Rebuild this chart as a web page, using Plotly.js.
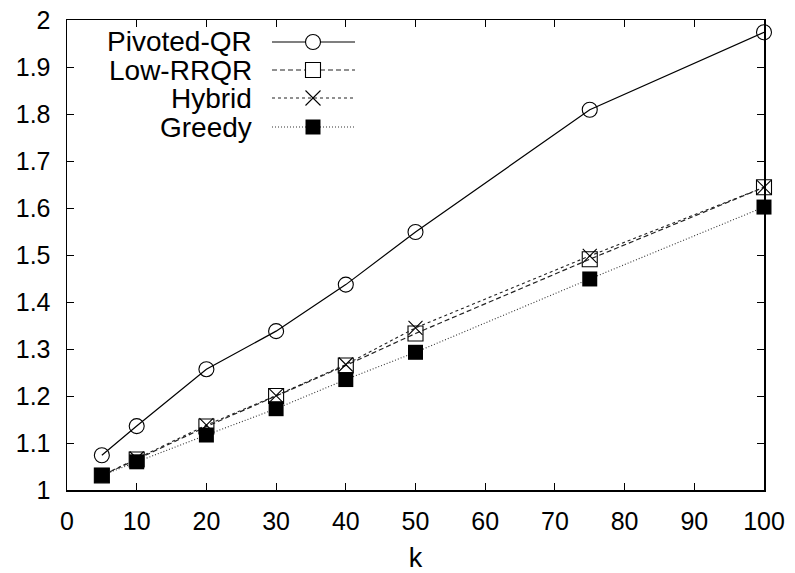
<!DOCTYPE html>
<html>
<head>
<meta charset="utf-8">
<script src="https://cdn.plot.ly/plotly-3.0.1.min.js"></script>
<style>html,body{margin:0;padding:0;background:#fff;}#chart{width:795px;height:573px;}</style>
</head>
<body>
<div id="chart"></div>
<script>
// Data
const kValues = [5, 10, 20, 30, 40, 50, 75, 100];
const pivotedQR = [1.074, 1.136, 1.257, 1.338, 1.437, 1.549, 1.809, 1.974];
const lowRRQR   = [1.031, 1.065, 1.135, 1.200, 1.265, 1.333, 1.491, 1.644];
const hybrid    = [1.031, 1.067, 1.138, 1.201, 1.267, 1.345, 1.498, 1.644];
const greedy    = [1.031, 1.060, 1.117, 1.173, 1.235, 1.293, 1.449, 1.602];
const seriesNames = ['Pivoted-QR', 'Low-RRQR', 'Hybrid', 'Greedy'];
const xTicks = [0, 10, 20, 30, 40, 50, 60, 70, 80, 90, 100];
const yTicks = [1, 1.1, 1.2, 1.3, 1.4, 1.5, 1.6, 1.7, 1.8, 1.9, 2];
const yTickText = ['1', '1.1', '1.2', '1.3', '1.4', '1.5', '1.6', '1.7', '1.8', '1.9', '2'];

const FONT = 'Liberation Sans, Arial, sans-serif';
const styles = [
  {dash: 'solid', color: '#000', lw: 1.2, symbol: 'circle-open', msize: 15, mcolor: '#000', mline: 1.1},
  {dash: '5px,3px', color: '#222', lw: 1.2, symbol: 'square-open', msize: 15, mcolor: '#000', mline: 1.1},
  {dash: '3px,3px', color: '#222', lw: 1.1, symbol: 'x-thin-open', msize: 14, mcolor: '#000', mline: 1.1},
  {dash: '1px,2px', color: '#333', lw: 1.1, symbol: 'square', msize: 15, mcolor: '#000', mline: 0}
];
const allSeries = [pivotedQR, lowRRQR, hybrid, greedy];

const traces = allSeries.map((ys, i) => ({
  x: kValues, y: ys, type: 'scatter', mode: 'lines+markers', name: seriesNames[i],
  showlegend: false,
  line: {color: styles[i].color, width: styles[i].lw, dash: styles[i].dash},
  marker: {symbol: styles[i].symbol, size: styles[i].msize, color: styles[i].mcolor,
           line: {color: '#000', width: styles[i].mline}},
  cliponaxis: false
}));

// Custom legend (text right-aligned, sample to the right) in pixel-based paper coords
const W = 795, H = 573, mL = 67, mR = 31, mT = 20, mB = 83;
const pw = W - mL - mR, ph = H - mT - mB;
const px = x => (x - mL) / pw;
const py = y => 1 - (y - mT) / ph;
const shapes = [];
const annotations = [];
const rowY = [42, 70, 98, 127];
const textRight = 254, lineX0 = 272, lineX1 = 355, mx = 313, half = 7.5;
seriesNames.forEach((nm, i) => {
  annotations.push({xref: 'paper', yref: 'paper', x: px(textRight), y: py(rowY[i]), xanchor: 'right', yanchor: 'middle',
    text: nm, showarrow: false, font: {family: FONT, size: 28, color: '#000'}});
  shapes.push({type: 'line', xref: 'paper', yref: 'paper', x0: px(lineX0), x1: px(lineX1), y0: py(rowY[i]), y1: py(rowY[i]),
    line: {color: styles[i].color, width: styles[i].lw, dash: styles[i].dash}});
  const sx0 = px(mx - half), sx1 = px(mx + half), sy0 = py(rowY[i] + half), sy1 = py(rowY[i] - half);
  if (i === 0) shapes.push({type: 'circle', xref: 'paper', yref: 'paper', x0: sx0, x1: sx1, y0: sy0, y1: sy1, fillcolor: '#fff', line: {color: '#000', width: 1.1}});
  if (i === 1) shapes.push({type: 'rect', xref: 'paper', yref: 'paper', x0: sx0, x1: sx1, y0: sy0, y1: sy1, fillcolor: '#fff', line: {color: '#000', width: 1.1}});
  if (i === 2) {
    shapes.push({type: 'line', xref: 'paper', yref: 'paper', x0: sx0, x1: sx1, y0: sy0, y1: sy1, line: {color: '#000', width: 1.1}});
    shapes.push({type: 'line', xref: 'paper', yref: 'paper', x0: sx0, x1: sx1, y0: sy1, y1: sy0, line: {color: '#000', width: 1.1}});
  }
  if (i === 3) shapes.push({type: 'rect', xref: 'paper', yref: 'paper', x0: sx0, x1: sx1, y0: sy0, y1: sy1, fillcolor: '#000', line: {color: '#000', width: 0}});
});

const layout = {
  width: W, height: H,
  margin: {l: mL, r: mR, t: mT, b: mB, pad: 0},
  paper_bgcolor: '#fff', plot_bgcolor: '#fff',
  font: {family: FONT, size: 25, color: '#000'},
  showlegend: false,
  xaxis: {
    range: [0, 100], tickvals: xTicks, ticktext: xTicks.map(String),
    ticks: 'inside', ticklen: 7, tickwidth: 1, tickcolor: '#000',
    showline: true, linecolor: '#000', linewidth: 1.5, mirror: 'ticks',
    showgrid: false, zeroline: false,
    tickfont: {family: FONT, size: 25, color: '#000'},
    ticklabelstandoff: 8,
    title: {text: 'k', font: {family: FONT, size: 27, color: '#000'}, standoff: 18}
  },
  yaxis: {
    range: [1, 2], tickvals: yTicks, ticktext: yTickText,
    ticks: 'inside', ticklen: 7, tickwidth: 1, tickcolor: '#000',
    showline: true, linecolor: '#000', linewidth: 1.5, mirror: 'ticks',
    showgrid: false, zeroline: false,
    ticklabelstandoff: 10,
    tickfont: {family: FONT, size: 25, color: '#000'}
  },
  shapes: shapes,
  annotations: annotations
};

Plotly.newPlot('chart', traces, layout, {staticPlot: true, displayModeBar: false});
</script>
</body>
</html>
